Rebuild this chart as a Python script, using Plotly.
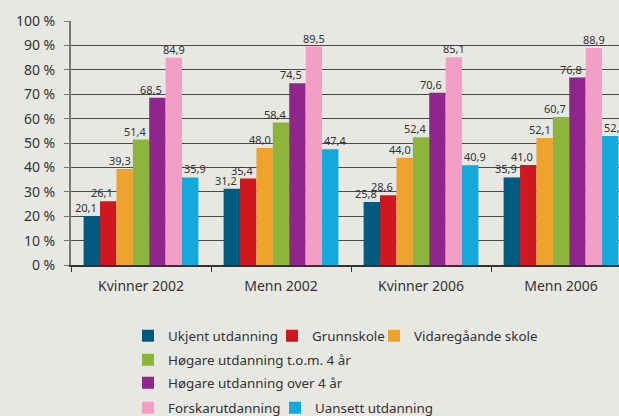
import plotly.graph_objects as go

categories = ["Kvinner 2002", "Menn 2002", "Kvinner 2006", "Menn 2006"]
series_names = [
    "Ukjent utdanning", "Grunnskole", "Vidaregåande skole",
    "Høgare utdanning t.o.m. 4 år", "Høgare utdanning over 4 år",
    "Forskarutdanning", "Uansett utdanning",
]
ukjent = [20.1, 31.2, 25.8, 35.9]
grunnskole = [26.1, 35.4, 28.6, 41.0]
vidaregaande = [39.3, 48.0, 44.0, 52.1]
hogare_tom4 = [51.4, 58.4, 52.4, 60.7]
hogare_over4 = [68.5, 74.5, 70.6, 76.8]
forskar = [84.9, 89.5, 85.1, 88.9]
uansett = [35.9, 47.4, 40.9, 52.9]
series_values = [ukjent, grunnskole, vidaregaande, hogare_tom4, hogare_over4, forskar, uansett]
colors = ["#005b7e", "#cf1720", "#eea32d", "#8db53c", "#8f268c", "#f39fc5", "#13aadb"]
ytick_vals = list(range(0, 101, 10))
ytick_text = [f"{v} %" for v in ytick_vals]

# style: horizontal nudge (px) of each series' value labels, as in the original
label_nudge = [-6, -6, -5, -6, -6, 0, 5]
# legend layout: one legend box per entry, (left of swatch, row centre) in px
legend_pos = [(147, 336), (291, 336), (393, 336), (147, 360), (147, 383), (147, 408), (294, 408)]

BG = "#e8e8e3"
TXT = "#333333"
FONT = "Noto Sans"
W, H = 619, 416
ML = 71
X_RANGE = [-0.5, 3.414]
BARGAP = 0.18

plot_w = W - ML
cat_px = plot_w / (X_RANGE[1] - X_RANGE[0])
bar_px = cat_px * (1 - BARGAP) / len(series_names)

fig = go.Figure()
legend_layouts = {}
annotations = []
n = len(series_names)
for i, (name, vals, col) in enumerate(zip(series_names, series_values, colors)):
    key = "legend" if i == 0 else f"legend{i + 1}"
    fig.add_trace(go.Bar(
        name=name, x=categories, y=vals, marker_color=col, marker_line_width=0,
        legend=key, showlegend=True,
    ))
    for c, v in zip(categories, vals):
        annotations.append(dict(
            x=c, y=v, xref="x", yref="y", text=f"{v:.1f}".replace(".", ","),
            showarrow=False, yanchor="bottom", xanchor="center",
            xshift=(i - (n - 1) / 2) * bar_px + label_nudge[i], yshift=-1,
            font=dict(size=11, color=TXT, family=FONT),
        ))
    sx, sy = legend_pos[i]
    legend_layouts[key] = dict(
        orientation="h", xref="container", yref="container",
        xanchor="left", yanchor="middle", bgcolor="rgba(0,0,0,0)",
        font=dict(size=13.4, color=TXT, family=FONT),
        itemwidth=30, x=(sx - 19) / W, y=1 - sy / H, visible=True,
    )

fig.update_layout(
    width=W, height=H, showlegend=True,
    paper_bgcolor=BG, plot_bgcolor=BG,
    margin=dict(l=ML, r=0, t=21, b=151),
    barmode="group", bargap=BARGAP, bargroupgap=0,
    font=dict(family=FONT, color=TXT),
    xaxis=dict(range=X_RANGE, showline=True, linecolor="#333333", linewidth=1.5,
               ticks="outside", tickson="boundaries", ticklen=5, tickcolor="#333333",
               tickfont=dict(size=14, color=TXT), showgrid=False, ticklabelstandoff=7),
    yaxis=dict(range=[0, 100], tickvals=ytick_vals, ticktext=ytick_text,
               showline=True, linecolor="#777777", linewidth=2,
               ticks="outside", ticklen=5, tickcolor="#777777",
               gridcolor="#4a4a4a", gridwidth=1, zeroline=False,
               tickfont=dict(size=14, color=TXT), ticklabelstandoff=6),
    annotations=annotations,
    **legend_layouts,
)
fig.write_html("out.html", config={"displayModeBar": False},
               post_script="document.body.style.margin='0';document.body.style.overflow='hidden';")
